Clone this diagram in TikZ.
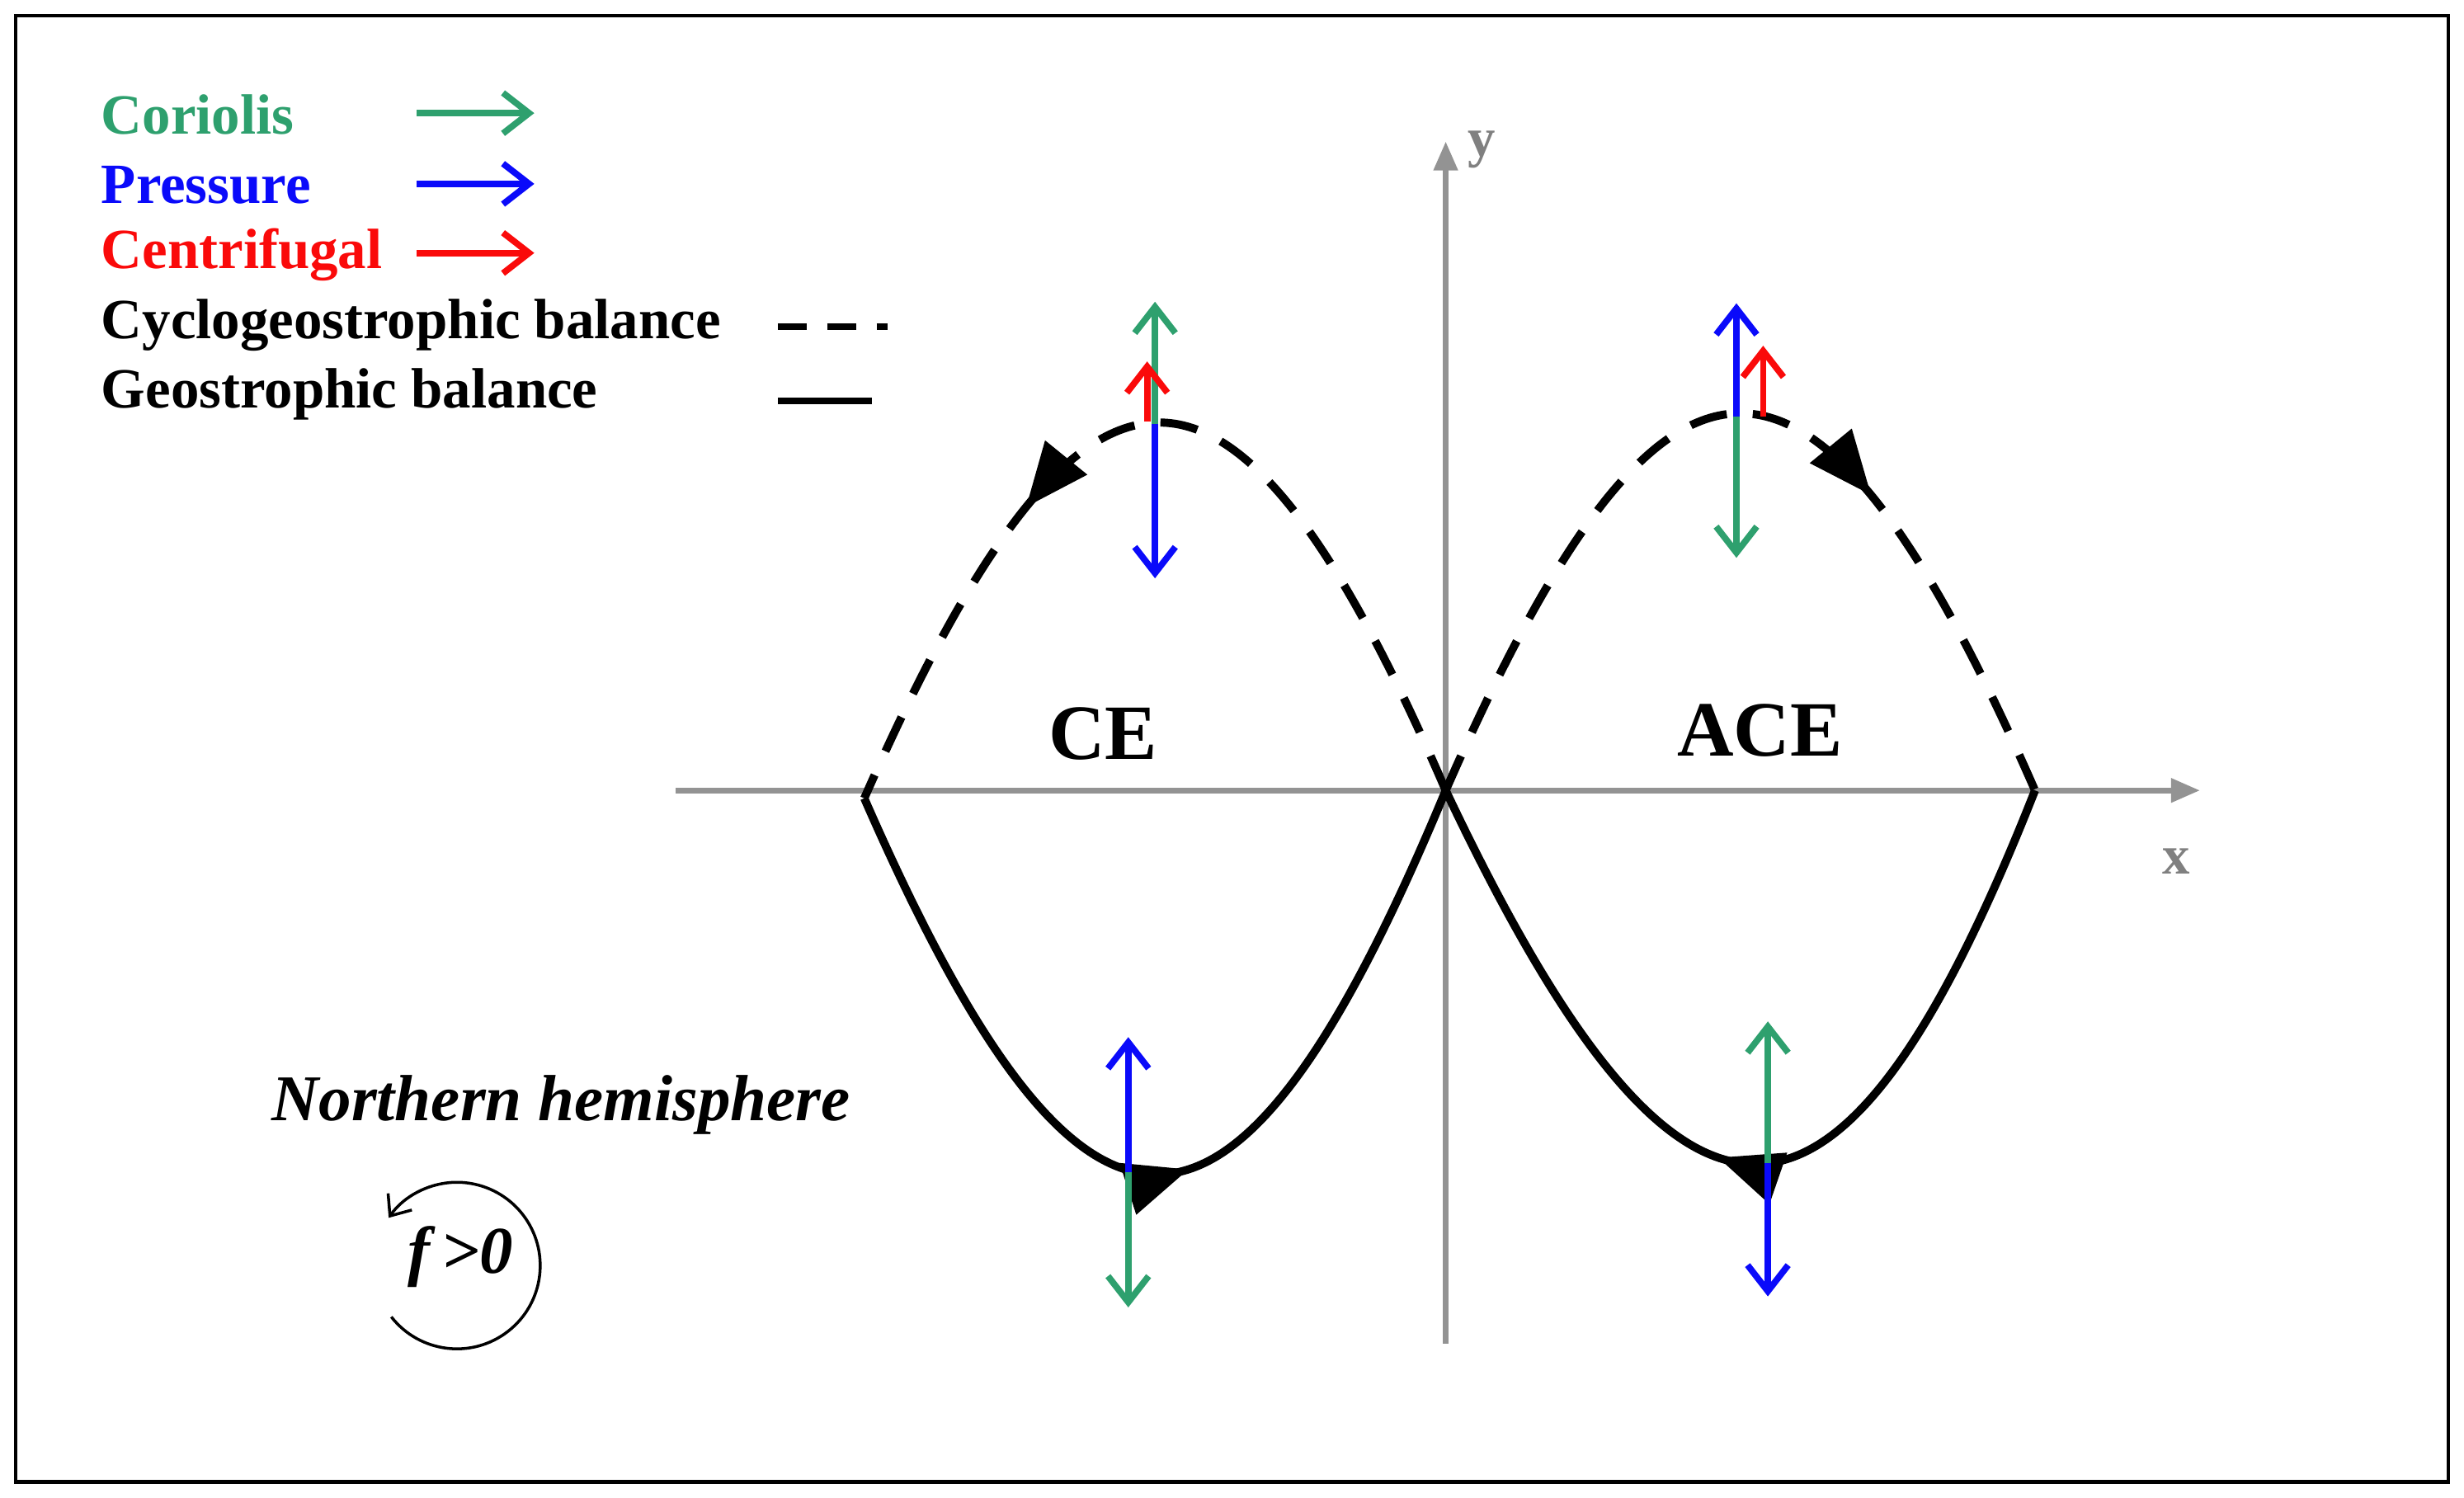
\documentclass[tikz,border=0pt]{standalone}
\usepackage{fontspec}
\setmainfont{Liberation Serif}
\usetikzlibrary{arrows.meta,decorations.markings}
\definecolor{cgreen}{RGB}{46,160,110}
\definecolor{cblue}{RGB}{10,10,250}
\definecolor{cred}{RGB}{250,10,10}
\begin{document}
\begin{tikzpicture}[x=0.01905cm,y=-0.01905cm,
 force/.style={line width=2.2pt,-{Straight Barb[length=9pt,width=14pt,line width=2.2pt]}},
 axis/.style={draw=gray!85,line width=2pt,-{Triangle[length=10pt,width=8pt]}},
 curve/.style={line width=2.8pt},
 mark/.style={postaction={decorate},decoration={markings,mark=at position #1 with {\arrow{Triangle[length=22pt,width=18pt]}}}},
 leg/.style={anchor=west,font=\bfseries\fontsize{19.6}{22}\selectfont}]
\useasboundingbox (0,0) rectangle (1568,953);
\draw[line width=1.2pt] (10,10) rectangle (1558,943);
% axes
\coordinate (xa) at (430,503); \coordinate (xb) at (1400,503);
\coordinate (ya) at (920,855); \coordinate (yb) at (920,90);
\draw[axis] (xa) -- (xb);
\draw[axis] (ya) -- (yb);
\node[text=gray,font=\bfseries\fontsize{19}{21}\selectfont] (ly) at (943,95) {y};
\node[text=gray,font=\bfseries\fontsize{19}{21}\selectfont] (lx) at (1385,548) {x};
% curves
\coordinate (L) at (550,508); \coordinate (O) at (920,503); \coordinate (R) at (1295,503);
\draw[curve,dash pattern=on 13pt off 9pt,mark=0.66] (O) .. controls (785,190) and (690,190) .. (L);
\draw[curve,dash pattern=on 13pt off 9pt,mark=0.66] (O) .. controls (1060,183) and (1155,183) .. (R);
\draw[curve,mark=0.53] (L) .. controls (690,828) and (785,828) .. (O);
\draw[curve,mark=0.53] (R) .. controls (1170,820) and (1070,820) .. (O);
% CE top forces
\coordinate (c1) at (735,270); \coordinate (c1g) at (735,192); \coordinate (c1b) at (735,368);
\coordinate (c1r0) at (730,268); \coordinate (c1r) at (730,230);
\draw[force,cgreen] (c1) -- (c1g);
\draw[force,cblue] (c1) -- (c1b);
\draw[force,cred] (c1r0) -- (c1r);
% ACE top forces
\coordinate (a1) at (1105,265); \coordinate (a1b) at (1105,193); \coordinate (a1g) at (1105,355);
\coordinate (a1r0) at (1122,265); \coordinate (a1r) at (1122,220);
\draw[force,cblue] (a1) -- (a1b);
\draw[force,cgreen] (a1) -- (a1g);
\draw[force,cred] (a1r0) -- (a1r);
% CE bottom
\coordinate (c2) at (718,746); \coordinate (c2b) at (718,660); \coordinate (c2g) at (718,832);
\draw[force,cblue] (c2) -- (c2b);
\draw[force,cgreen] (c2) -- (c2g);
% ACE bottom
\coordinate (a2) at (1125,740); \coordinate (a2g) at (1125,650); \coordinate (a2b) at (1125,825);
\draw[force,cgreen] (a2) -- (a2g);
\draw[force,cblue] (a2) -- (a2b);
% labels
\node[font=\bfseries\fontsize{27}{29}\selectfont] (ce) at (702,467) {CE};
\node[font=\bfseries\fontsize{27}{29}\selectfont] (ace) at (1120,465) {ACE};
% legend
\node[leg,text=cgreen] (t1) at (58,73) {Coriolis};
\node[leg,text=cblue] (t2) at (58,118) {Pressure};
\node[leg,text=cred] (t3) at (58,162) {Centrifugal};
\node[leg] (t4) at (58,207) {Cyclogeostrophic balance};
\node[leg] (t5) at (58,251) {Geostrophic balance};
\coordinate (g1) at (265,72); \coordinate (g2) at (340,72);
\coordinate (b1) at (265,117); \coordinate (b2) at (340,117);
\coordinate (r1) at (265,161); \coordinate (r2) at (340,161);
\coordinate (d1) at (495,208); \coordinate (d2) at (565,208);
\coordinate (s1) at (495,255); \coordinate (s2) at (555,255);
\draw[force,cgreen] (g1) -- (g2);
\draw[force,cblue] (b1) -- (b2);
\draw[force,cred] (r1) -- (r2);
\draw[line width=2.2pt,dash pattern=on 10pt off 7pt] (d1) -- (d2);
\draw[line width=2.2pt] (s1) -- (s2);
% Northern hemisphere
\node[font=\bfseries\itshape\fontsize{22.5}{25}\selectfont] (nh) at (357,703) {Northern hemisphere};
\node[font=\bfseries\itshape\fontsize{23}{25}\selectfont] (f) at (293,800) {f\,>0};
\coordinate (cs) at (249,838);
\draw[line width=1pt,-{Straight Barb[length=6pt,width=10pt]}] (cs) arc[start angle=-218,end angle=-505,radius=53];
\end{tikzpicture}
\end{document}
